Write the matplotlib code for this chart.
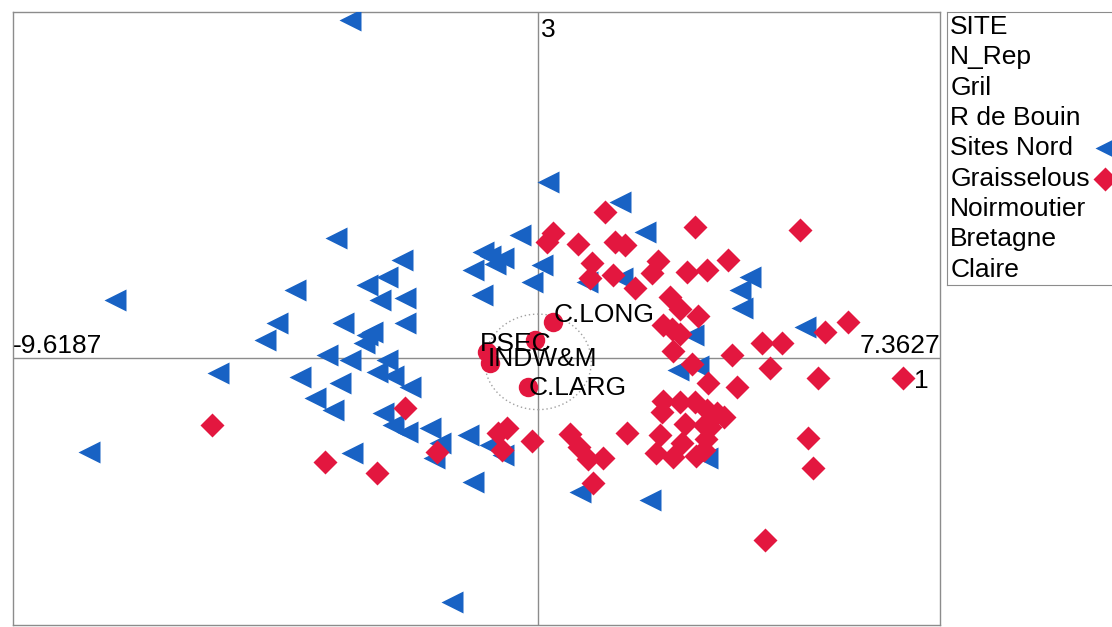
import numpy as np
import matplotlib.pyplot as plt
from matplotlib.patches import Ellipse

plt.rcParams['font.family'] = ['Liberation Sans', 'DejaVu Sans']

# Axis 1 (horizontal) / axis 3 (vertical) scores
x_min, x_max = -9.6187, 7.3627

# individuals, site "Sites Nord"
nord_x = [-3.44, 0.18, 1.50, 1.96, -3.70, -0.33, -1.01, -0.88, -0.64, -0.79,
          -1.19, 0.07, -2.49, -2.77, -3.13, -4.45, -7.75, -1.03, -0.11, 0.90,
          1.54, -2.89, -2.44, -4.78, -3.57, -2.44, -5.00, -3.13, -3.04, -3.19,
          -3.86, -3.44, -2.77, -2.95, -2.66, -4.36, -5.86, -3.63, -2.34, -4.08,
          -3.76, -2.84, -2.66, -2.40, -1.98, -1.80, -1.28, -0.88, -0.64, -1.91,
          -3.41, -8.22, -1.19, -1.58, 0.77, 2.05, 3.10, 2.56, 2.93, 2.84,
          3.88, 3.70, 3.74, 4.89]
nord_y = [6.19, 3.22, 2.86, 2.31, 2.20, 2.25, 1.94, 1.87, 1.83, 1.72,
          1.61, 1.70, 1.80, 1.48, 1.34, 1.25, 1.06, 1.15, 1.39, 1.39,
          1.47, 1.06, 1.10, 0.64, 0.64, 0.64, 0.33, 0.42, 0.48, 0.28,
          0.06, -0.04, -0.04, -0.26, -0.33, -0.35, -0.28, -0.46, -0.53, -0.73,
          -0.95, -1.01, -1.23, -1.36, -1.28, -1.56, -1.41, -1.59, -1.78, -1.83,
          -1.74, -1.72, -2.27, -4.47, -2.45, -2.60, -1.83, -0.22, -0.15, 0.42,
          1.48, 1.25, 0.92, 0.57]

# individuals, site "Graisselous"
grai_x = [1.23, 2.88, 4.80, 0.28, 0.17, 0.73, 1.41, 1.59, 0.99, 0.95,
          1.37, 1.78, 2.20, 2.09, 2.73, 3.10, 3.48, 2.42, 2.60, 2.93,
          2.29, 2.45, 2.60, 2.47, 5.26, 5.68, 4.10, 4.47, 2.82, 3.55,
          4.25, 5.13, 6.69, 3.11, 3.65, 2.29, 2.60, 2.88, 2.27, 3.10,
          3.28, 3.41, 2.69, 3.04, 0.59, 1.63, 2.23, 2.64, 3.08, 3.04,
          2.16, 2.47, 2.89, 0.75, 0.92, 1.19, 4.95, 5.04, 1.01, 4.16,
          -5.97, -2.44, -3.90, -2.95, -1.85, -0.73, -0.57, -0.66, -0.11, 3.15]
grai_y = [2.67, 2.40, 2.34, 2.29, 2.13, 2.09, 2.13, 2.07, 1.74, 1.47,
          1.52, 1.28, 1.78, 1.56, 1.58, 1.61, 1.80, 1.12, 0.90, 0.77,
          0.60, 0.53, 0.44, 0.13, 0.48, 0.66, 0.28, 0.28, -0.11, 0.06,
          -0.18, -0.37, -0.37, -0.46, -0.53, -0.79, -0.81, -0.81, -0.99, -0.95,
          -1.01, -1.08, -1.21, -1.23, -1.39, -1.37, -1.41, -1.56, -1.48, -1.69,
          -1.74, -1.81, -1.80, -1.63, -1.85, -1.83, -1.47, -2.02, -2.29, -3.33,
          -1.23, -0.92, -1.91, -2.11, -1.72, -1.37, -1.28, -1.69, -1.52, -1.26]

# variables (scaled into the individuals plane)
var_x = [0.28, -0.93, -0.88, -0.06, -0.18]
var_y = [0.66, 0.11, -0.09, 0.33, -0.53]
var_names = ['C.LONG', 'PSEC', 'INDW&M', '', 'C.LARG']
var_offsets = [(0, 5), (-5, 6), (-2, 3), (0, 0), (0, -1)]

legend_items = ['SITE', 'N_Rep', 'Gril', 'R de Bouin', 'Sites Nord',
                'Graisselous', 'Noirmoutier', 'Bretagne', 'Claire']

blue = '#1862c4'
red = '#e3173f'
grey = '#8c8c8c'

fig = plt.figure(figsize=(11.12, 6.27), dpi=100)
ax = fig.add_axes([0.0117, 0.0032, 0.8336, 0.9777])

ax.axhline(0, color=grey, lw=1, zorder=1)
ax.axvline(0, color=grey, lw=1, zorder=1)

ax.plot(nord_x, nord_y, '<', color=blue, ms=16, mec='none', zorder=3)
ax.plot(grai_x, grai_y, 'D', color=red, ms=12, mec='none', zorder=3)

ax.add_patch(Ellipse((0, -0.07), 1.95, 1.75, fill=False, ls=(0, (1, 2)),
                     color='#a0a0a0', lw=1, zorder=2))
ax.plot(var_x, var_y, 'o', color=red, ms=14, mec='none', zorder=4)
for name, vx, vy, off in zip(var_names, var_x, var_y, var_offsets):
    ax.annotate(name, (vx, vy), xytext=off, textcoords='offset points',
                ha='left', va='center', fontsize=19, zorder=5)

ax.text(x_min, 0, '-9.6187', ha='left', va='bottom', fontsize=19)
ax.text(x_max, 0, '7.3627', ha='right', va='bottom', fontsize=19)
ax.annotate('1', (x_max, 0), xytext=(-8, -8), textcoords='offset points',
            ha='right', va='top', fontsize=19)
ax.annotate('3', (0, 6.34), xytext=(2, -4), textcoords='offset points',
            ha='left', va='top', fontsize=19)

ax.set_xlim(x_min, x_max)
ax.set_ylim(-4.89, 6.34)
ax.set_xticks([])
ax.set_yticks([])
for s in ax.spines.values():
    s.set_color(grey)
    s.set_linewidth(1)

# legend box
lax = fig.add_axes([0.8516, 0.5455, 0.151, 0.4354])
lax.set_xlim(0, 1)
lax.set_ylim(0, 1)
lax.set_xticks([])
lax.set_yticks([])
for s in lax.spines.values():
    s.set_color(grey)
for i, item in enumerate(legend_items):
    yy = 1 - (i + 0.5) / len(legend_items)
    lax.text(0.02, yy, item, ha='left', va='center', fontsize=19)
    if item == 'Sites Nord':
        lax.plot(0.95, yy, '<', color=blue, ms=16, mec='none', clip_on=False)
    if item == 'Graisselous':
        lax.plot(0.94, yy, 'D', color=red, ms=12, mec='none', clip_on=False)

fig.savefig('out.png', dpi=100)
